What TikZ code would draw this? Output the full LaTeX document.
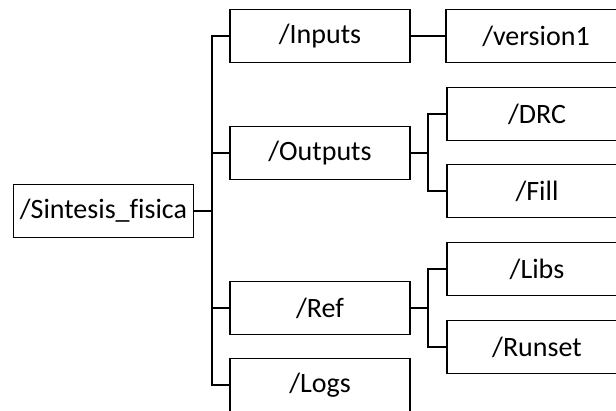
\documentclass[tikz,border=0pt]{standalone}
\usepackage{fontspec}
\setmainfont[Ligatures=NoCommon]{Carlito}
\begin{document}
\begin{tikzpicture}[x=1pt,y=-1pt,
  dirbox/.style={draw=black,line width=1.5pt,rectangle,fill=white,
    minimum width=180pt,minimum height=53pt,inner sep=0pt,
    font=\fontsize{28}{31}\selectfont},
  link/.style={draw=black,line width=1.5pt}]
  \clip (0,0) rectangle (616,411);
  \fill[white] (0,0) rectangle (616,411);
  % folder boxes
  \node[dirbox] (sint) at (103.5,211) {/Sintesis\_fisica};
  \node[dirbox] (inputs) at (320,36) {/Inputs};
  \node[dirbox] (outputs) at (320,153) {/Outputs};
  \node[dirbox] (ref) at (320,308) {/Ref};
  \node[dirbox] (logs) at (320,385) {/Logs};
  \node[dirbox] (version) at (536,36) {/version1};
  \node[dirbox] (drc) at (537,114) {/DRC};
  \node[dirbox] (fill) at (537,191) {/Fill};
  \node[dirbox] (libs) at (537,269) {/Libs};
  \node[dirbox] (runset) at (537,347) {/Runset};
  % vertical bus positions
  \coordinate (trunk) at (212,0);
  \coordinate (sub) at (428,0);
  % main tree
  \draw[link] (sint.east) -- (sint.east -| trunk);
  \draw[link] (inputs.west) -| (trunk |- logs) -- (logs.west);
  \draw[link] (outputs.west) -- (outputs.west -| trunk);
  \draw[link] (ref.west) -- (ref.west -| trunk);
  \draw[link] (inputs.east) -- (version.west);
  % sub trees
  \draw[link] (outputs.east) -- (outputs.east -| sub);
  \draw[link] (drc.west) -| (sub |- fill) -- (fill.west);
  \draw[link] (ref.east) -- (ref.east -| sub);
  \draw[link] (libs.west) -| (sub |- runset) -- (runset.west);
\end{tikzpicture}
\end{document}
